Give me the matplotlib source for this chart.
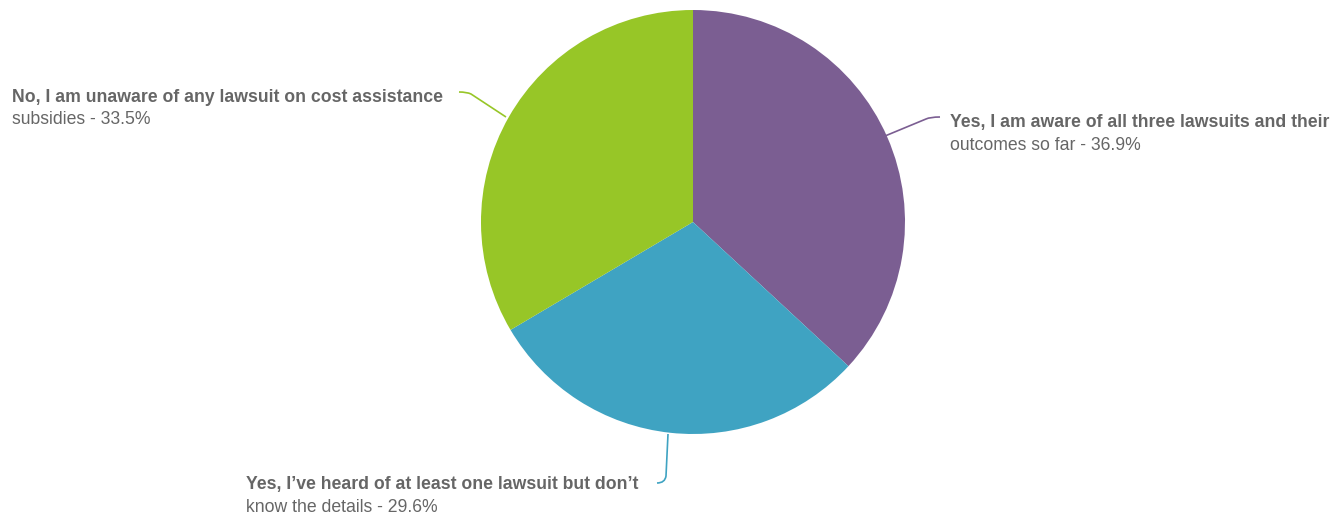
import matplotlib
matplotlib.use("Agg")
import matplotlib.pyplot as plt
from matplotlib.path import Path
from matplotlib.patches import PathPatch

plt.rcParams['font.family'] = ['Liberation Sans', 'DejaVu Sans']

labels_bold = [
    "Yes, I am aware of all three lawsuits and their",
    "Yes, I\u2019ve heard of at least one lawsuit but don\u2019t",
    "No, I am unaware of any lawsuit on cost assistance",
]
labels_rest = [
    "outcomes so far",
    "know the details",
    "subsidies",
]
shares = [36.9, 29.6, 33.5]
colors = ["#7b5e92", "#3fa3c2", "#97c627"]

W, H = 1335, 514
fig = plt.figure(figsize=(W / 100, H / 100), dpi=100)
ax = fig.add_axes([0, 0, 1, 1])

cx, cy, r = 693, 222, 212
# y axis is inverted, so counterclockwise in data means clockwise on screen
ax.pie(shares, colors=colors, startangle=-90, counterclock=True,
       center=(cx, cy), radius=r, frame=True,
       wedgeprops=dict(linewidth=0))
ax.set_xlim(0, W)
ax.set_ylim(H, 0)
ax.set_aspect('equal')
ax.axis('off')

txt = "#666666"
fs = 12.7

# label positions (left x, first-line center y) and connector paths
label_pos = [(950, 122), (246, 485), (12, 97)]
connectors = [
    [(940, 117), (930, 117), (926, 119), (885, 136)],
    [(657, 483), (665, 483), (666, 476), (668, 434)],
    [(459, 92), (467, 92), (471, 94), (506, 117)],
]

for i in range(len(shares)):
    x, y = label_pos[i]
    ax.text(x, y, labels_bold[i], fontsize=fs, fontweight='bold', color=txt,
            ha='left', va='center')
    ax.text(x, y + 23, f"{labels_rest[i]} - {shares[i]}%", fontsize=fs,
            color=txt, ha='left', va='center')
    verts = connectors[i]
    codes = [Path.MOVETO, Path.CURVE3, Path.CURVE3, Path.LINETO]
    ax.add_patch(PathPatch(Path(verts, codes), fill=False,
                           edgecolor=colors[i], linewidth=1.2))

fig.savefig("out.png", dpi=100)
